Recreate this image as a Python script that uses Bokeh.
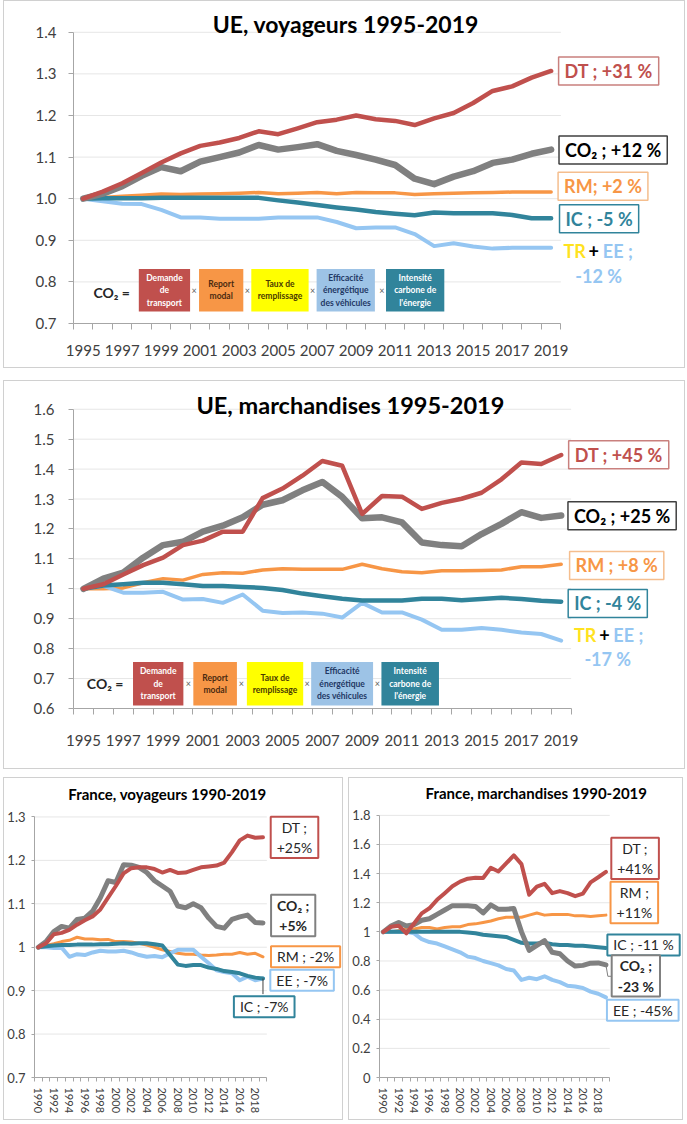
from bokeh.plotting import figure
from bokeh.models import Label, BoxAnnotation, FixedTicker, NumeralTickFormatter
from bokeh.layouts import column, row
from bokeh.embed import file_html
from bokeh.resources import INLINE

# ---------------- data ----------------
ue_years = list(range(1995, 2020))
fr_years = list(range(1990, 2020))
ue_year_labels = list(range(1995, 2020, 2))
fr_year_labels = list(range(1990, 2019, 2))

ue_voy_ticks = [0.7, 0.8, 0.9, 1.0, 1.1, 1.2, 1.3, 1.4]
ue_mar_ticks = [0.6, 0.7, 0.8, 0.9, 1.0, 1.1, 1.2, 1.3, 1.4, 1.5, 1.6]
fr_voy_ticks = [0.7, 0.8, 0.9, 1.0, 1.1, 1.2, 1.3]
fr_mar_ticks = [0.0, 0.2, 0.4, 0.6, 0.8, 1.0, 1.2, 1.4, 1.6, 1.8]

ue_voy_dt = [1.000, 1.017, 1.037, 1.062, 1.087, 1.109, 1.127, 1.135, 1.146, 1.162, 1.155, 1.169, 1.184,
             1.190, 1.200, 1.191, 1.187, 1.177, 1.193, 1.206, 1.230, 1.259, 1.270, 1.291, 1.307]
ue_voy_co2 = [1.000, 1.012, 1.030, 1.055, 1.076, 1.066, 1.089, 1.100, 1.111, 1.129, 1.118, 1.124, 1.131,
              1.115, 1.105, 1.094, 1.081, 1.048, 1.035, 1.053, 1.066, 1.086, 1.094, 1.108, 1.118]
ue_voy_rm = [1.000, 1.003, 1.006, 1.008, 1.011, 1.010, 1.011, 1.012, 1.013, 1.015, 1.012, 1.013, 1.015,
             1.012, 1.015, 1.014, 1.014, 1.010, 1.012, 1.013, 1.014, 1.015, 1.016, 1.016, 1.016]
ue_voy_ic = [1.000, 1.001, 1.001, 1.001, 1.002, 1.002, 1.002, 1.002, 1.002, 1.002, 0.996, 0.991, 0.985,
             0.979, 0.974, 0.968, 0.964, 0.960, 0.967, 0.965, 0.965, 0.965, 0.961, 0.953, 0.953]
ue_voy_ee = [1.000, 0.994, 0.988, 0.987, 0.973, 0.955, 0.955, 0.952, 0.952, 0.952, 0.955, 0.955, 0.955,
             0.944, 0.929, 0.931, 0.931, 0.915, 0.886, 0.893, 0.885, 0.880, 0.882, 0.882, 0.882]

ue_mar_dt = [1.000, 1.015, 1.048, 1.079, 1.104, 1.146, 1.161, 1.191, 1.191, 1.303, 1.335, 1.378, 1.427,
             1.411, 1.250, 1.310, 1.308, 1.267, 1.287, 1.301, 1.321, 1.366, 1.422, 1.417, 1.447]
ue_mar_co2 = [1.000, 1.034, 1.054, 1.104, 1.146, 1.157, 1.191, 1.211, 1.239, 1.281, 1.296, 1.329, 1.357,
              1.307, 1.236, 1.239, 1.222, 1.155, 1.146, 1.142, 1.183, 1.217, 1.256, 1.237, 1.245]
ue_mar_rm = [1.000, 1.000, 1.003, 1.020, 1.034, 1.029, 1.048, 1.054, 1.052, 1.063, 1.067, 1.065, 1.065,
             1.065, 1.082, 1.067, 1.057, 1.054, 1.060, 1.060, 1.061, 1.063, 1.074, 1.074, 1.082]
ue_mar_ic = [1.000, 1.011, 1.015, 1.020, 1.020, 1.015, 1.009, 1.009, 1.006, 1.003, 0.996, 0.984, 0.975,
             0.967, 0.961, 0.961, 0.961, 0.967, 0.967, 0.962, 0.966, 0.970, 0.966, 0.960, 0.957]
ue_mar_ee = [1.000, 1.010, 0.987, 0.987, 0.990, 0.964, 0.966, 0.953, 0.981, 0.927, 0.919, 0.921, 0.917,
             0.904, 0.953, 0.921, 0.921, 0.897, 0.863, 0.863, 0.869, 0.863, 0.854, 0.849, 0.827]

fr_voy_dt = [1.000, 1.009, 1.030, 1.033, 1.040, 1.052, 1.062, 1.071, 1.087, 1.114, 1.141, 1.170, 1.182,
             1.184, 1.184, 1.180, 1.172, 1.178, 1.171, 1.172, 1.178, 1.184, 1.186, 1.188, 1.195, 1.219,
             1.246, 1.257, 1.252, 1.253]
fr_voy_co2 = [1.000, 1.013, 1.036, 1.048, 1.044, 1.064, 1.067, 1.083, 1.114, 1.153, 1.149, 1.190, 1.189,
              1.184, 1.172, 1.153, 1.141, 1.129, 1.095, 1.091, 1.100, 1.091, 1.067, 1.048, 1.044, 1.064,
              1.070, 1.074, 1.057, 1.056]
fr_voy_rm = [1.000, 1.004, 1.008, 1.013, 1.016, 1.023, 1.019, 1.019, 1.017, 1.018, 1.013, 1.013, 1.012,
             1.009, 1.005, 1.000, 0.994, 0.990, 0.986, 0.984, 0.984, 0.982, 0.981, 0.982, 0.984, 0.984,
             0.988, 0.984, 0.986, 0.978]
fr_voy_ic = [1.000, 1.002, 1.004, 1.005, 1.005, 1.006, 1.006, 1.006, 1.007, 1.007, 1.008, 1.009, 1.008,
             1.009, 1.009, 1.007, 1.004, 0.982, 0.960, 0.957, 0.959, 0.959, 0.953, 0.950, 0.945, 0.943,
             0.940, 0.934, 0.930, 0.928]
fr_voy_ee = [1.000, 1.000, 0.998, 0.999, 0.978, 0.984, 0.982, 0.988, 0.992, 0.990, 0.990, 0.992, 0.988,
             0.982, 0.978, 0.980, 0.977, 0.986, 0.994, 0.994, 0.994, 0.978, 0.963, 0.947, 0.943, 0.940,
             0.924, 0.932, 0.924, 0.928]

fr_mar_dt = [1.000, 1.035, 1.042, 0.990, 1.058, 1.127, 1.162, 1.220, 1.266, 1.313, 1.345, 1.365, 1.372,
             1.370, 1.440, 1.415, 1.470, 1.525, 1.465, 1.255, 1.310, 1.330, 1.266, 1.280, 1.266, 1.245,
             1.262, 1.340, 1.375, 1.412]
fr_mar_co2 = [1.000, 1.040, 1.065, 1.040, 1.050, 1.080, 1.090, 1.120, 1.150, 1.180, 1.180, 1.180, 1.175,
              1.130, 1.185, 1.155, 1.155, 1.160, 1.000, 0.873, 0.907, 0.940, 0.860, 0.850, 0.800, 0.765,
              0.770, 0.785, 0.787, 0.773]
fr_mar_rm = [1.000, 1.000, 1.010, 1.020, 1.020, 1.030, 1.030, 1.020, 1.030, 1.035, 1.035, 1.050, 1.055,
             1.065, 1.075, 1.090, 1.100, 1.100, 1.100, 1.115, 1.130, 1.115, 1.120, 1.120, 1.120, 1.110,
             1.110, 1.105, 1.110, 1.115]
fr_mar_ic = [1.000, 1.000, 1.000, 1.000, 1.000, 1.000, 1.000, 1.000, 1.000, 1.000, 1.000, 0.995, 0.990,
             0.980, 0.975, 0.970, 0.965, 0.945, 0.925, 0.920, 0.920, 0.925, 0.915, 0.910, 0.910, 0.905,
             0.905, 0.900, 0.895, 0.890]
fr_mar_ee = [1.000, 1.000, 1.000, 1.000, 0.990, 0.950, 0.930, 0.920, 0.900, 0.880, 0.860, 0.830, 0.820,
             0.800, 0.785, 0.770, 0.745, 0.735, 0.670, 0.685, 0.675, 0.695, 0.670, 0.655, 0.630, 0.625,
             0.615, 0.590, 0.575, 0.550]

formula_texts = ["Demande\nde\ntransport", "Report\nmodal", "Taux de\nremplissage",
                 "Efficacité\nénergétique\ndes véhicules", "Intensité\ncarbone de\nl'énergie"]

# ---------------- style ----------------
RED = "#C0504D"
GRAY = "#808080"
ORANGE = "#F79646"
TEAL = "#31849B"
LBLUE = "#95C6F2"
YELLOW = "#FFE21F"
BOXFILL = [RED, ORANGE, "#FFFF00", "#9DC3E6", TEAL]
BOXTEXT = ["white", "#4a2a10", "#4a3a00", "#1f3864", "white"]
LATO = "Lato"
BW = 1.5
BORDER = {"border": "1.5px solid #d0d0d0"}


def base(cw, ch, x0, x1, y0, y1, left, bottom, px_x, top_off, yticks):
    """cw/ch: drawing area inside the 1.5px panel border. The frame fills it right of the
    y axis and above the x axis, so the boxed labels and titles are not clipped."""
    frame_w = cw - left
    frame_h = ch - bottom
    px_y = (frame_h - top_off) / (y1 - y0)
    p = figure(width=int(cw + 2 * BW), height=int(ch + 2 * BW),
               x_range=(x0, x0 + frame_w / px_x), y_range=(y0, y0 + frame_h / px_y),
               output_backend="svg", toolbar_location=None, min_border_left=left,
               min_border_right=0, min_border_top=0, min_border_bottom=bottom)
    p.title.visible = False
    p.outline_line_color = None
    p.background_fill_color = "white"
    p.border_fill_color = "white"
    p.xgrid.grid_line_color = None
    p.ygrid.grid_line_color = None
    p.segment(x0=[x0] * len(yticks), x1=[x1] * len(yticks), y0=yticks, y1=yticks,
              line_color="#e6e6e6", line_width=1, level="underlay")
    p.xaxis.bounds = (x0, x1)
    p.yaxis.bounds = (y0, y1)
    p.axis.axis_line_color = "#a6a6a6"
    p.axis.major_tick_line_color = "#a6a6a6"
    p.axis.minor_tick_line_color = "#a6a6a6"
    p.yaxis.minor_tick_line_color = None
    p.styles = BORDER
    return p


def add_lines(p, years, ee, rm, ic, co2, dt, widths):
    p.line(years, rm, line_color=ORANGE, line_width=widths[0], line_join="round", line_cap="round")
    p.line(years, ee, line_color=LBLUE, line_width=widths[1], line_join="round", line_cap="round")
    p.line(years, ic, line_color=TEAL, line_width=widths[2], line_join="round", line_cap="round")
    p.line(years, co2, line_color=GRAY, line_width=widths[3], line_join="round", line_cap="round")
    p.line(years, dt, line_color=RED, line_width=widths[4], line_join="round", line_cap="round")


def lab(p, x, y, text, color, size, font=LATO, style="bold", border=None, align="center",
        xoff=0, yoff=0, alpha=1.0, pad=(6, 3), lw=1.5, lh=1.2):
    kw = {}
    if border is not None:
        kw = dict(border_line_color=border, border_line_width=lw, background_fill_color="white",
                  padding=pad)
    p.add_layout(Label(x=x, y=y, text=text, text_align=align, text_baseline="middle",
                       text_color=color, text_font=font, text_font_size=size,
                       text_font_style=style, x_offset=xoff, y_offset=yoff, text_alpha=alpha,
                       text_line_height=lh, **kw))


def ue_axes(p, yticks, xstand, ystand):
    p.xaxis.ticker = FixedTicker(ticks=ue_year_labels,
                                 minor_ticks=[y - 0.5 for y in ue_years] + [ue_years[-1] + 0.5])
    p.xaxis.major_tick_out = 0
    p.xaxis.major_tick_in = 0
    p.xaxis.minor_tick_out = 6
    p.xaxis.minor_tick_in = 0
    p.xaxis.major_label_standoff = xstand
    p.yaxis.ticker = FixedTicker(ticks=yticks)
    p.yaxis.major_tick_out = 5
    p.yaxis.major_tick_in = 0
    p.yaxis.major_label_standoff = ystand
    p.axis.major_label_text_font = LATO
    p.axis.major_label_text_font_size = "15px"
    p.axis.major_label_text_color = "#404040"


def formula(p, cx, cy, lefts, rights, top, bottom, times):
    lab(p, cx, cy, "CO₂ =", "#262626", "14px")
    for i in range(5):
        p.add_layout(BoxAnnotation(left=lefts[i], right=rights[i], top=top, bottom=bottom,
                                   fill_color=BOXFILL[i], fill_alpha=1.0, line_color=None))
        lab(p, (lefts[i] + rights[i]) / 2, (top + bottom) / 2, formula_texts[i], BOXTEXT[i],
            "8.5px", lh=1.25)
    for t in times:
        lab(p, t, (top + bottom) / 2, "×", "#606060", "9px", style="normal")


# ---------------- panel 1 : UE voyageurs ----------------
p1 = base(679, 365, 1994.5, 2019.5, 0.7, 1.4, 69, 46, 19.4, 30.5, ue_voy_ticks)
ue_axes(p1, ue_voy_ticks, 15, 12)
p1.yaxis.formatter = NumeralTickFormatter(format="0.0")
add_lines(p1, ue_years, ue_voy_ee, ue_voy_rm, ue_voy_ic, ue_voy_co2, ue_voy_dt, [3.5, 4, 4.5, 6.5, 4.5])
lab(p1, 2008.47, 1.419, "UE, voyageurs 1995-2019", "black", "23px")
lab(p1, 2021.95, 1.307, "DT ; +31 %", RED, "18px", border="#C9807E")
lab(p1, 2022.18, 1.117, "CO₂ ; +12 %", "black", "18px", border="#404040")
lab(p1, 2021.66, 1.030, "RM; +2 %", ORANGE, "18px", border="#F5BE8E")
lab(p1, 2021.46, 0.952, "IC ; -5 %", TEAL, "18px", border=TEAL)
lab(p1, 2021.46, 0.844, "TR + EE ;\n-12 %", LBLUE, "18px", border="#B4D3F0", alpha=0.0)
lab(p1, 2021.19, 0.875, "TR", YELLOW, "18px", align="right", xoff=-8)
lab(p1, 2021.19, 0.875, "+", "black", "18px")
lab(p1, 2021.19, 0.875, "EE ;", LBLUE, "18px", align="left", xoff=9)
lab(p1, 2021.44, 0.814, "-12 %", LBLUE, "18px")
formula(p1, 1996.46, 0.775, [1997.85, 2000.94, 2003.62, 2006.97, 2010.53],
        [2000.48, 2003.21, 2006.56, 2009.96, 2013.52], 0.831, 0.729,
        [2000.69, 2003.42, 2006.77, 2010.32])

# ---------------- panel 2 : UE marchandises ----------------
p2 = base(679, 386, 1994.5, 2019.5, 0.6, 1.6, 60, 62, 20.1, 27.5, ue_mar_ticks)
ue_axes(p2, ue_mar_ticks, 20, 14)
p2.yaxis.formatter = NumeralTickFormatter(format="0.0")
p2.yaxis.major_label_overrides = {1: "1"}
add_lines(p2, ue_years, ue_mar_ee, ue_mar_rm, ue_mar_ic, ue_mar_co2, ue_mar_dt, [3.5, 4, 4.5, 6.5, 4.5])
lab(p2, 2008.41, 1.613, "UE, marchandises 1995-2019", "black", "23.5px")
lab(p2, 2021.89, 1.448, "DT ; +45 %", RED, "18px", border="#C9807E")
lab(p2, 2022.06, 1.244, "CO₂ ; +25 %", "black", "18px", border="#404040")
lab(p2, 2021.79, 1.078, "RM ; +8 %", ORANGE, "18px", border="#F5BE8E")
lab(p2, 2021.34, 0.951, "IC ; -4 %", TEAL, "18px", border=TEAL)
lab(p2, 2021.39, 0.808, "TR + EE ;\n-17 %", LBLUE, "18px", border="#B4D3F0", alpha=0.0)
lab(p2, 2021.17, 0.845, "TR", YELLOW, "18px", align="right", xoff=-8)
lab(p2, 2021.17, 0.845, "+", "black", "18px")
lab(p2, 2021.17, 0.845, "EE ;", LBLUE, "18px", align="left", xoff=9)
lab(p2, 2021.34, 0.766, "-17 %", LBLUE, "18px")
formula(p2, 1996.09, 0.684, [1997.49, 2000.52, 2003.21, 2006.44, 2009.97],
        [2000.02, 2002.71, 2006.04, 2009.55, 2012.86], 0.755, 0.610,
        [2000.27, 2002.93, 2006.24, 2009.77])


# ---------------- France panels ----------------
def fr_axes(p, yticks, overrides):
    p.xaxis.ticker = FixedTicker(ticks=fr_year_labels,
                                 minor_ticks=[y - 0.5 for y in fr_years] + [fr_years[-1] + 0.5])
    p.xaxis.major_tick_out = 0
    p.xaxis.major_tick_in = 0
    p.xaxis.minor_tick_out = 4
    p.xaxis.minor_tick_in = 0
    p.xaxis.major_label_orientation = "vertical"
    p.xaxis.major_label_standoff = 6
    p.xaxis.major_label_text_font_size = "11px"
    p.yaxis.ticker = FixedTicker(ticks=yticks)
    p.yaxis.formatter = NumeralTickFormatter(format="0.0")
    p.yaxis.major_label_overrides = overrides
    p.yaxis.major_tick_out = 3
    p.yaxis.major_tick_in = 0
    p.yaxis.major_label_standoff = 6
    p.yaxis.major_label_text_font_size = "13px"
    p.axis.major_label_text_font = LATO
    p.axis.major_label_text_color = "#404040"


p3 = base(337, 340, 1989.5, 2019.5, 0.7, 1.3, 30, 43, 7.67, 38.2, fr_voy_ticks)
fr_axes(p3, fr_voy_ticks, {1: "1"})
add_lines(p3, fr_years, fr_voy_ee, fr_voy_rm, fr_voy_ic, fr_voy_co2, fr_voy_dt, [3, 4, 4, 5, 4])
p3.line([fr_years[-1], fr_years[-1]], [fr_voy_ic[-1], 0.892], line_color="#404040", line_width=1)
lab(p3, 2006.67, 1.354, "France, voyageurs 1990-2019", "black", "15px")
lab(p3, 2023.07, 1.253, "DT ;\n+25%", "#262626", "14px", style="normal", border=RED, pad=(6, 2), lw=2)
lab(p3, 2022.90, 1.073, "CO₂ ;\n+5%", "#262626", "14px", border=GRAY, pad=(6, 2), lw=2)
lab(p3, 2024.50, 0.978, "RM ; -2%", "#262626", "14px", style="normal", border=ORANGE, pad=(6, 2), lw=2)
lab(p3, 2024.05, 0.924, "EE ; -7%", "#262626", "14px", style="normal", border=LBLUE, pad=(6, 2), lw=2)
lab(p3, 2019.16, 0.863, "IC ; -7%", "#262626", "14px", style="normal", border=TEAL, pad=(6, 2), lw=2)

p4 = base(332, 340, 1989.5, 2019.5, 0.0, 1.8, 30, 44, 7.6, 36.5, fr_mar_ticks)
fr_axes(p4, fr_mar_ticks, {0: "0", 1: "1"})
add_lines(p4, fr_years, fr_mar_ee, fr_mar_rm, fr_mar_ic, fr_mar_co2, fr_mar_dt, [3, 4, 4, 5, 4])
p4.line([fr_years[-1], 2019.25, 2020.0], [fr_mar_co2[-1], 0.695, 0.695], line_color="#808080", line_width=1)
lab(p4, 2009.93, 1.951, "France, marchandises 1990-2019", "black", "15px")
lab(p4, 2022.80, 1.505, "DT ;\n+41%", "#262626", "14px", style="normal", border=RED, pad=(6, 2), lw=2)
lab(p4, 2022.70, 1.202, "RM ;\n+11%", "#262626", "14px", style="normal", border=ORANGE, pad=(6, 2), lw=2)
lab(p4, 2023.90, 0.910, "IC ; -11 %", "#262626", "14px", style="normal", border=TEAL, pad=(6, 2), lw=2)
lab(p4, 2022.90, 0.698, "CO₂ ;\n-23 %", "#262626", "14px", border=GRAY, pad=(6, 2), lw=2)
lab(p4, 2023.80, 0.462, "EE ; -45%", "#262626", "14px", style="normal", border=LBLUE, pad=(6, 2), lw=2)

p2.margin = (12, 0, 0, 0)
bottom_row = row(p3, p4, spacing=5)
bottom_row.margin = (8, 0, 0, 0)
layout = column(p1, p2, bottom_row, spacing=0)
layout.margin = (0, 0, 0, 3)
open("out.html", "w").write(file_html(layout, INLINE))
